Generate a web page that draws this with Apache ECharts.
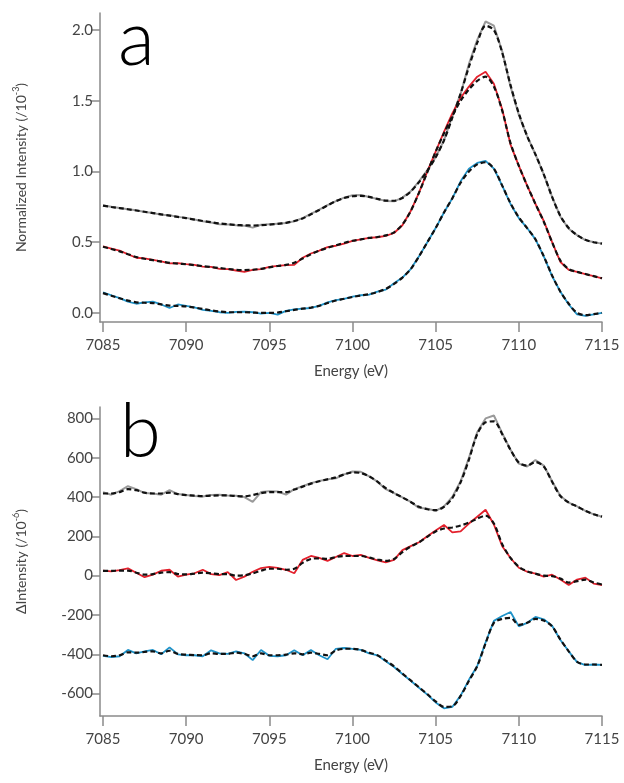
<!DOCTYPE html>
<html><head><meta charset="utf-8">
<script src="https://cdn.jsdelivr.net/npm/echarts@6/dist/echarts.min.js"></script>
<style>html,body{margin:0;padding:0;background:#fff}#c{width:624px;height:783px}</style>
</head><body><div id="c"></div><script>
// Energy grid (eV)
const energy = [7085,7085.5,7086,7086.5,7087,7087.5,7088,7088.5,7089,7089.5,7090,
 7090.5,7091,7091.5,7092,7092.5,7093,7093.5,7094,7094.5,7095,
 7095.5,7096,7096.5,7097,7097.5,7098,7098.5,7099,7099.5,7100,
 7100.5,7101,7101.5,7102,7102.5,7103,7103.5,7104,7104.5,7105,
 7105.5,7106,7106.5,7107,7107.5,7108,7108.5,7109,7109.5,7110,
 7110.5,7111,7111.5,7112,7112.5,7113,7113.5,7114,7114.5,7115];

// Panel a: normalized intensity (/10^-3)
const aGray = [0.76,0.75,0.742,0.733,0.726,0.714,0.706,0.694,0.69,0.679,0.672,
 0.66,0.648,0.639,0.627,0.626,0.62,0.617,0.603,0.623,0.627,
 0.631,0.635,0.648,0.67,0.7,0.73,0.762,0.79,0.815,0.832,
 0.833,0.82,0.805,0.792,0.789,0.815,0.86,0.93,1.01,1.1,
 1.22,1.39,1.55,1.76,1.93,2.06,2.03,1.85,1.6,1.4,
 1.25,1.12,0.98,0.82,0.68,0.595,0.55,0.515,0.5,0.49];
const aGrayFit = [0.758,0.749,0.741,0.733,0.724,0.715,0.706,0.697,0.688,0.679,0.67,
 0.66,0.65,0.641,0.633,0.627,0.622,0.619,0.618,0.62,0.624,
 0.63,0.637,0.65,0.668,0.697,0.728,0.76,0.79,0.812,0.825,
 0.828,0.82,0.806,0.794,0.793,0.813,0.858,0.925,1.005,1.1,
 1.22,1.38,1.55,1.74,1.91,2.03,2.0,1.84,1.61,1.41,
 1.25,1.12,0.98,0.82,0.685,0.6,0.55,0.517,0.5,0.49];
const aRed = [0.47,0.455,0.44,0.415,0.39,0.385,0.375,0.365,0.35,0.352,0.345,
 0.34,0.328,0.325,0.312,0.31,0.3,0.29,0.305,0.31,0.325,
 0.332,0.338,0.34,0.39,0.42,0.44,0.465,0.475,0.49,0.51,
 0.52,0.53,0.535,0.545,0.565,0.62,0.72,0.85,1.0,1.14,
 1.28,1.41,1.52,1.6,1.67,1.705,1.62,1.44,1.19,1.04,
 0.9,0.77,0.65,0.5,0.36,0.305,0.29,0.275,0.26,0.245];
const aRedFit = [0.468,0.452,0.435,0.415,0.395,0.383,0.373,0.363,0.354,0.349,0.344,
 0.338,0.331,0.324,0.317,0.311,0.305,0.303,0.305,0.312,0.322,
 0.332,0.34,0.355,0.385,0.415,0.44,0.46,0.478,0.495,0.51,
 0.52,0.53,0.537,0.548,0.57,0.625,0.72,0.85,0.995,1.14,
 1.27,1.39,1.5,1.58,1.64,1.67,1.6,1.43,1.2,1.04,
 0.9,0.77,0.645,0.5,0.37,0.31,0.29,0.275,0.26,0.245];
const aBlue = [0.145,0.125,0.105,0.08,0.065,0.075,0.08,0.06,0.035,0.06,0.05,
 0.04,0.022,0.015,0.005,0.0,0.007,0.01,0.005,-0.005,0.0,
 -0.012,0.015,0.025,0.03,0.035,0.05,0.075,0.09,0.1,0.115,
 0.125,0.13,0.15,0.165,0.21,0.25,0.31,0.4,0.5,0.6,
 0.71,0.81,0.93,1.02,1.06,1.075,1.02,0.9,0.77,0.67,
 0.6,0.52,0.4,0.26,0.15,0.06,-0.01,-0.02,-0.01,0.0];
const aBlueFit = [0.14,0.122,0.104,0.087,0.075,0.072,0.07,0.06,0.052,0.05,0.046,
 0.038,0.028,0.018,0.01,0.005,0.005,0.005,0.003,0.0,0.0,
 0.003,0.012,0.022,0.03,0.038,0.05,0.07,0.088,0.1,0.113,
 0.123,0.133,0.148,0.17,0.205,0.25,0.31,0.4,0.5,0.6,
 0.71,0.81,0.92,1.0,1.05,1.065,1.02,0.9,0.775,0.675,
 0.6,0.52,0.4,0.265,0.15,0.065,0.0,-0.015,-0.008,0.0];

// Panel b: delta intensity (/10^-6)
const bGray = [424,412,430,455,440,420,418,412,435,415,410,
 405,403,410,412,408,407,400,375,425,430,
 428,412,440,455,470,482,490,495,515,530,
 528,505,478,440,420,398,375,345,340,330,
 352,400,480,600,730,800,815,725,640,570,
 555,588,560,480,405,372,352,330,312,300];
const bGrayFit = [418,418,425,440,435,422,418,418,422,415,410,
 407,405,407,408,408,405,403,410,420,425,
 425,425,438,453,468,480,490,500,515,525,
 522,505,478,445,420,398,375,350,338,333,
 350,395,475,590,720,780,785,720,640,575,
 560,578,555,478,405,372,352,330,312,300];
const bRed = [26,22,28,37,15,-8,5,25,30,-5,5,
 12,30,8,3,18,-22,-5,20,38,45,
 40,30,12,80,100,90,75,95,115,100,
 106,90,78,68,80,130,150,170,200,230,
 258,220,225,265,300,335,260,150,90,40,
 20,10,-5,5,-20,-48,-20,-10,-40,-48];
const bRedFit = [24,24,26,26,15,5,8,15,18,8,6,
 10,15,12,8,8,0,2,12,25,35,
 35,30,35,65,85,88,85,95,100,100,
 100,92,82,75,85,120,148,170,198,225,
 240,245,255,270,290,305,265,160,90,45,
 22,10,0,-2,-15,-35,-28,-20,-35,-45];
const bBlue = [-408,-415,-410,-378,-395,-385,-378,-400,-365,-400,-405,
 -405,-410,-380,-395,-398,-385,-395,-430,-378,-408,
 -410,-405,-380,-405,-378,-405,-425,-372,-368,-372,
 -378,-395,-405,-435,-465,-500,-535,-570,-605,-645,
 -675,-668,-610,-530,-460,-340,-230,-205,-185,-258,
 -240,-210,-222,-255,-327,-385,-440,-455,-452,-454];
const bBlueFit = [-405,-410,-405,-390,-392,-388,-385,-395,-382,-398,-402,
 -404,-405,-395,-398,-398,-392,-398,-410,-395,-405,
 -405,-402,-395,-400,-392,-398,-405,-380,-372,-372,
 -378,-392,-405,-432,-462,-498,-533,-568,-603,-640,
 -668,-665,-612,-535,-460,-345,-240,-220,-215,-250,
 -240,-220,-228,-258,-325,-385,-438,-452,-452,-454];

const xTicks = [7085,7090,7095,7100,7105,7110,7115];
const yTicksA = [0,0.5,1,1.5,2];
const yTicksB = [-600,-400,-200,0,200,400,600,800];

const FONT = 'Lato';
const AX = '#8a8a8a', LB = '#444';
const pairs = arr => energy.map((e,i)=>[e, arr[i]]);

function mkX(gi){
  return {type:'value', gridIndex:gi, min:7084.82, max:7115,
    axisLine:{show:true,onZero:false,lineStyle:{color:AX,width:1.5}},
    axisTick:{show:true,customValues:xTicks,length:10,inside:false,lineStyle:{color:AX,width:1.5}},
    axisLabel:{show:true,customValues:xTicks,color:LB,fontSize:15,fontFamily:FONT,margin:16,formatter:v=>String(v)},
    splitLine:{show:false},
    name:'Energy (eV)', nameLocation:'middle', nameGap:42,
    nameTextStyle:{color:LB,fontSize:15,fontFamily:FONT}};
}
function mkY(gi,min,max,ticks,fmt,name,rich){
  return {type:'value', gridIndex:gi, min:min, max:max,
    axisLine:{show:true,onZero:false,lineStyle:{color:AX,width:1.5}},
    axisTick:{show:true,customValues:ticks,length:9,lineStyle:{color:AX,width:1.5}},
    axisLabel:{show:true,customValues:ticks,color:LB,fontSize:15,fontFamily:FONT,margin:7,formatter:fmt},
    splitLine:{show:false},
    name:name, nameLocation:'middle', nameGap:72,
    nameTextStyle:{color:LB,fontSize:14,fontFamily:FONT,rich:rich}};
}
const rich = {
  t:{fontSize:14,fontFamily:FONT,color:LB,verticalAlign:'bottom'},
  s:{fontSize:9,fontFamily:FONT,color:LB,verticalAlign:'bottom',padding:[0,0,7,0]}
};
function solid(xi,arr,color,w){
  return {type:'line',xAxisIndex:xi,yAxisIndex:xi,data:pairs(arr),showSymbol:false,
    lineStyle:{color:color,width:w},z:2,silent:true};
}
function fit(xi,arr){
  return {type:'line',xAxisIndex:xi,yAxisIndex:xi,data:pairs(arr),showSymbol:false,smooth:0.3,
    lineStyle:{color:'#111',width:2.2,type:[5,3]},z:3,silent:true};
}

const chart = echarts.init(document.getElementById('c'));
chart.setOption({
  animation:false,
  backgroundColor:'#fff',
  grid:[{left:100,top:13,right:22,height:309},{left:100,top:407,right:22,height:309}],
  xAxis:[mkX(0),mkX(1)],
  yAxis:[
    mkY(0,-0.064,2.12,yTicksA,v=>v.toFixed(1),'{t|Normalized Intensity (/10}{s|-3}{t|)}',rich),
    mkY(1,-714,858,yTicksB,v=>String(v),'{t|ΔIntensity (/10}{s|-6}{t|)}',rich)
  ],
  series:[
    solid(0,aGray,'#9a9a9a',2), solid(0,aRed,'#e3202c',1.8), solid(0,aBlue,'#1f93c9',1.8),
    fit(0,aGrayFit), fit(0,aRedFit), fit(0,aBlueFit),
    solid(1,bGray,'#9a9a9a',2), solid(1,bRed,'#e3202c',1.8), solid(1,bBlue,'#1f93c9',1.8),
    fit(1,bGrayFit), fit(1,bRedFit), fit(1,bBlueFit)
  ],
  graphic:[
    {type:'text',left:118,top:2,style:{text:'a',font:'300 76px '+FONT,fill:'#000'}},
    {type:'text',left:120,top:396,style:{text:'b',font:'300 74px '+FONT,fill:'#000'}}
  ]
});
</script></body></html>
